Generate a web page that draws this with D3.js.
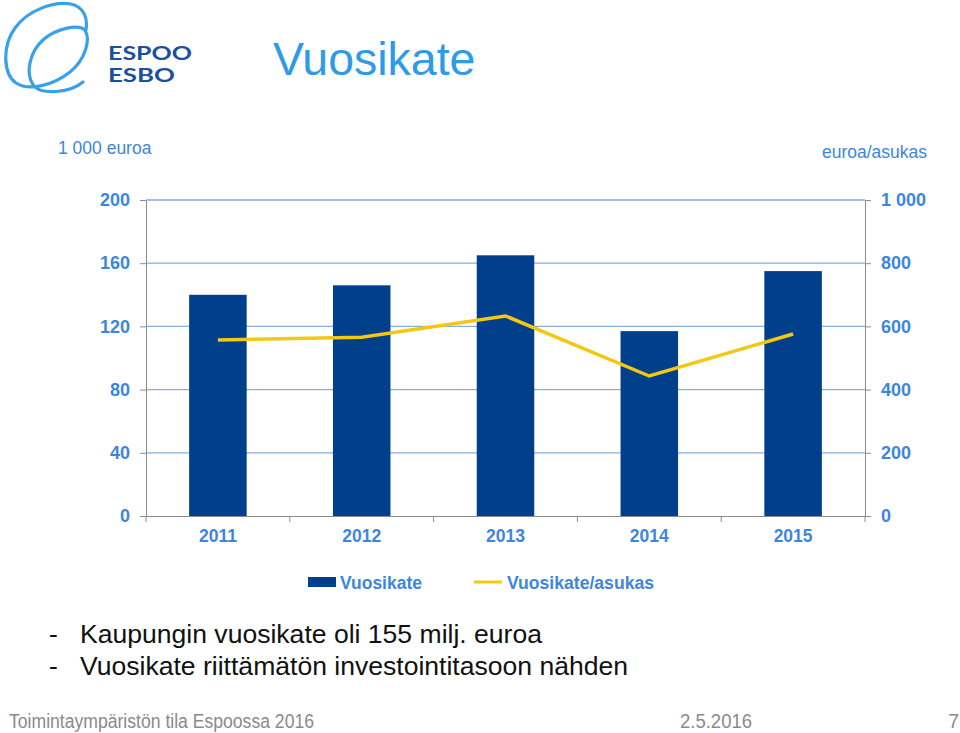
<!DOCTYPE html>
<html>
<head>
<meta charset="utf-8">
<script src="https://cdn.jsdelivr.net/npm/d3@7"></script>
<style>
  body { margin: 0; background: #fff; }
  svg { display: block; font-family: "Liberation Sans", Arial, sans-serif; }
</style>
</head>
<body>
<svg id="chart" width="960" height="733"></svg>
<script>
const years = ['2011', '2012', '2013', '2014', '2015'];
const vuosikate = [140, 146, 165, 117, 155];          // 1 000 euroa (milj.)
const perAsukas = [557, 566, 633, 443, 576];          // euroa/asukas
const leftTicks = [0, 40, 80, 120, 160, 200];
const rightTicks = [0, 200, 400, 600, 800, 1000];
const bullets = ['Kaupungin vuosikate oli 155 milj. euroa', 'Vuosikate riittämätön investointitasoon nähden'];

const blue = '#3d86dc', barColor = '#003f8c', lineColor = '#f2c811', grid = '#86aede', axisGray = '#8c8c8c';

const svg = d3.select('#chart');
const m = { left: 146, right: 865, top: 200, bottom: 516 };

const x = d3.scaleBand().domain(years).range([m.left, m.right]).paddingInner(0.6).paddingOuter(0.3);
const xb = d3.scaleBand().domain(years).range([m.left, m.right]);
const yL = d3.scaleLinear().domain([0, 200]).range([m.bottom, m.top]);
const yR = d3.scaleLinear().domain([0, 1000]).range([m.bottom, m.top]);

const fmt = d => d3.format(',')(d).replace(',', ' ');

// logo
const logo = svg.append('g').attr('fill', 'none').attr('stroke', '#3aa0ea').attr('stroke-width', 3.2).attr('stroke-linecap', 'round');
logo.append('path').attr('d', 'M83,82 C70,93 42,95 34,86 C25,74 29,52 44,39 C58,28 78,24 85,30 C91,40 85,60 70,72 C55,84 30,92 16,83 C3,74 2,46 15,28 C28,10 54,1 71,4 C84,7 88,18 86,30');
const lt = svg.append('g').attr('fill', '#1d4f9f').attr('font-weight', 'bold')
  .attr('font-family', 'Lato, "DejaVu Sans", sans-serif').attr('font-size', 18);
lt.append('text').attr('x', 108).attr('y', 60).attr('textLength', 84).attr('lengthAdjust', 'spacingAndGlyphs').text('ESPOO');
lt.append('text').attr('x', 108).attr('y', 82).attr('textLength', 67).attr('lengthAdjust', 'spacingAndGlyphs').text('ESBO');

svg.append('text').attr('x', 273).attr('y', 75).attr('font-size', 46.5).attr('fill', '#2e9ae8').text('Vuosikate');

// axis titles
svg.append('text').attr('x', 58).attr('y', 154).attr('font-size', 17.5).attr('fill', blue).text('1 000 euroa');
svg.append('text').attr('x', 927).attr('y', 158).attr('text-anchor', 'end').attr('font-size', 17.5).attr('fill', blue).text('euroa/asukas');

// gridlines
svg.append('g').selectAll('line').data(leftTicks.filter(d => d > 0)).join('line')
  .attr('x1', m.left).attr('x2', m.right).attr('y1', d => yL(d)).attr('y2', d => yL(d))
  .attr('stroke', grid).attr('stroke-width', 1.3);

// bars
svg.append('g').selectAll('rect').data(vuosikate).join('rect')
  .attr('x', (d, i) => x(years[i])).attr('width', x.bandwidth())
  .attr('y', d => yL(d)).attr('height', d => yL(0) - yL(d)).attr('fill', barColor);

// line
svg.append('path').datum(perAsukas)
  .attr('d', d3.line().x((d, i) => x(years[i]) + x.bandwidth() / 2).y(d => yR(d)))
  .attr('fill', 'none').attr('stroke', lineColor).attr('stroke-width', 3.5);

// axes
const styleAxis = g => {
  g.select('.domain').attr('stroke', axisGray);
  g.selectAll('.tick line').attr('stroke', axisGray);
  g.selectAll('.tick text').attr('fill', blue).attr('font-weight', 'bold').attr('font-size', 18)
    .attr('font-family', '"Liberation Sans", Arial, sans-serif');
};
svg.append('g').attr('transform', `translate(${m.left},0)`)
  .call(d3.axisLeft(yL).tickValues(leftTicks).tickSize(6).tickSizeOuter(0).tickPadding(10).tickFormat(fmt))
  .call(styleAxis);
svg.append('g').attr('transform', `translate(${m.right},0)`)
  .call(d3.axisRight(yR).tickValues(rightTicks).tickSize(6).tickSizeOuter(0).tickPadding(10).tickFormat(fmt))
  .call(styleAxis);

const xa = svg.append('g').attr('transform', `translate(0,${m.bottom})`)
  .call(d3.axisBottom(xb).tickSize(0).tickPadding(14))
  .call(styleAxis);
xa.selectAll('.tick text').attr('font-size', 17.5).attr('dy', '0.71em');
// category boundary ticks
svg.append('g').selectAll('line').data(years.concat(['end'])).join('line')
  .attr('x1', (d, i) => m.left + i * xb.step()).attr('x2', (d, i) => m.left + i * xb.step())
  .attr('y1', m.bottom).attr('y2', m.bottom + 6).attr('stroke', axisGray);

// legend
const lg = svg.append('g').attr('font-size', 17.5).attr('font-weight', 'bold').attr('fill', blue);
lg.append('rect').attr('x', 308).attr('y', 577).attr('width', 28).attr('height', 10).attr('fill', barColor);
lg.append('text').attr('x', 340).attr('y', 589).attr('textLength', 82).attr('lengthAdjust', 'spacingAndGlyphs').text('Vuosikate');
lg.append('line').attr('x1', 474).attr('x2', 502).attr('y1', 582).attr('y2', 582).attr('stroke', lineColor).attr('stroke-width', 3);
lg.append('text').attr('x', 507).attr('y', 589).attr('textLength', 147).attr('lengthAdjust', 'spacingAndGlyphs').text('Vuosikate/asukas');

// bullets
const bt = svg.append('g').attr('font-size', 26.5).attr('fill', '#111');
const bulletLen = [462, 548];
bullets.forEach((b, i) => {
  bt.append('text').attr('x', 49).attr('y', 643 + i * 32).text('-');
  bt.append('text').attr('x', 80).attr('y', 643 + i * 32)
    .attr('textLength', bulletLen[i]).attr('lengthAdjust', 'spacingAndGlyphs').text(b);
});

// footer
const ft = svg.append('g').attr('font-size', 19.5).attr('fill', '#8a8a8a');
ft.append('text').attr('x', 9).attr('y', 728).attr('textLength', 305).attr('lengthAdjust', 'spacingAndGlyphs').text('Toimintaympäristön tila Espoossa 2016');
ft.append('text').attr('x', 680).attr('y', 728).attr('textLength', 72).attr('lengthAdjust', 'spacingAndGlyphs').text('2.5.2016');
ft.append('text').attr('x', 959).attr('y', 728).attr('text-anchor', 'end').text('7');
</script>
</body>
</html>
